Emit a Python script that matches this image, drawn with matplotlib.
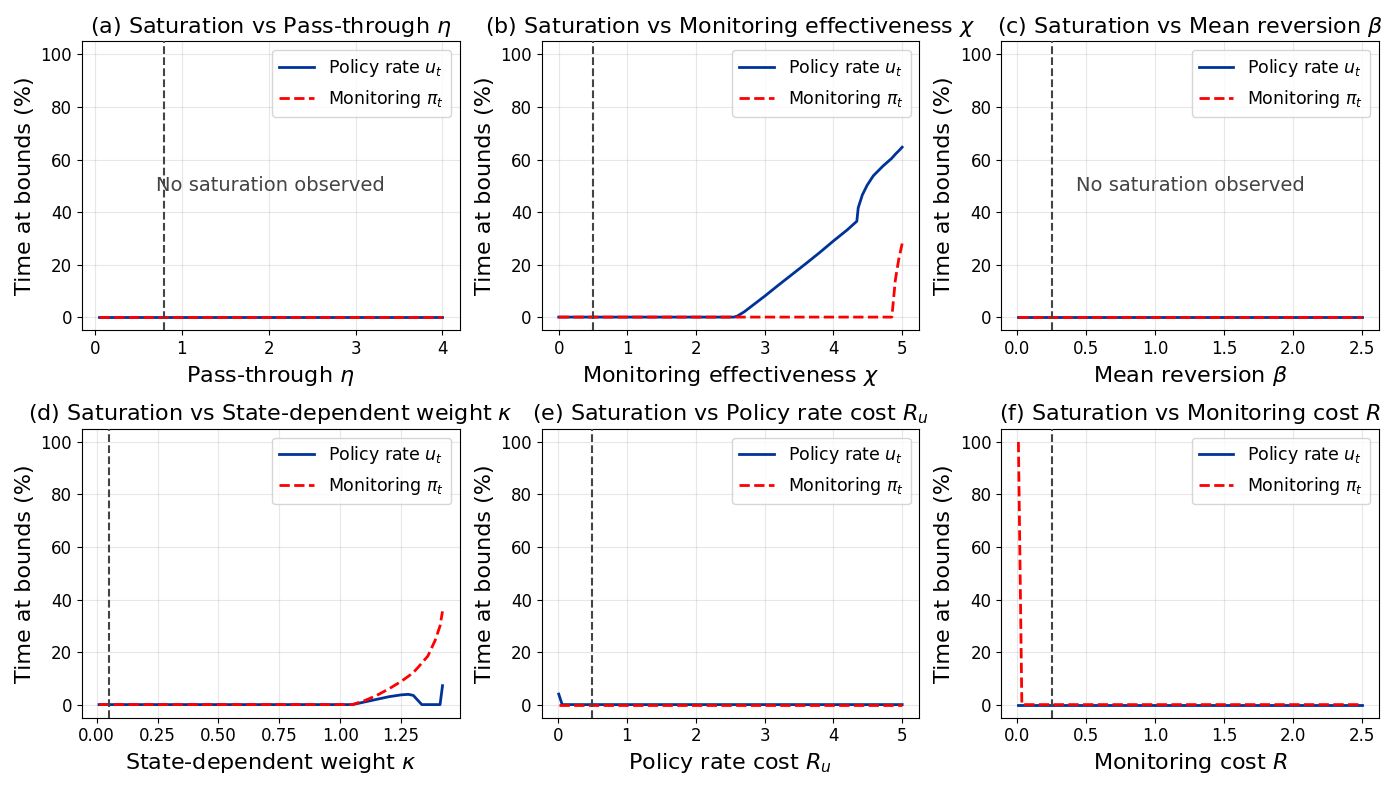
import matplotlib
matplotlib.use("Agg")
import matplotlib.pyplot as plt
import numpy as np

# ---- data ----
a_x = [0.05, 1.0, 2.0, 3.0, 4.0]
a_u = [0, 0, 0, 0, 0]
a_pi = [0, 0, 0, 0, 0]
a_ref = 0.8

b_x = [0.0, 0.5, 1.0, 1.5, 2.0, 2.5, 2.55, 2.6, 2.7, 2.8, 2.9, 3.0, 3.2, 3.4, 3.6, 3.8, 4.0,
       4.2, 4.34, 4.36, 4.42, 4.49, 4.58, 4.72, 4.85, 4.9, 4.95, 5.0]
b_u = [0, 0, 0, 0, 0, 0, 0, 0.4, 2.0, 4.0, 6.0, 8.0, 12.2, 16.3, 20.4, 24.6, 29.0,
       33.2, 36.5, 41.6, 46.5, 50.2, 53.8, 57.5, 60.5, 62.0, 63.3, 64.7]
b_pi = [0, 0, 0, 0, 0, 0, 0, 0, 0, 0, 0, 0, 0, 0, 0, 0, 0,
        0, 0, 0, 0, 0, 0, 0, 0, 14, 22, 28]
b_ref = 0.5

c_x = [0.01, 0.5, 1.0, 1.5, 2.0, 2.5]
c_u = [0, 0, 0, 0, 0, 0]
c_pi = [0, 0, 0, 0, 0, 0]
c_ref = 0.25

d_x = [0.01, 0.25, 0.5, 0.75, 1.0, 1.05, 1.1, 1.15, 1.2, 1.25, 1.28, 1.3, 1.32, 1.335,
       1.36, 1.39, 1.41, 1.42]
d_u = [0, 0, 0, 0, 0, 0, 1.0, 2.0, 3.0, 3.7, 3.9, 3.5, 1.5, 0, 0, 0, 0, 7.2]
d_pi = [0, 0, 0, 0, 0, 0, 1.5, 3.5, 6.0, 8.8, 10.8, 12.2, 14.2, 15.8, 18.5, 24.5, 30.0, 35.5]
d_ref = 0.05

e_x = [0.01, 0.06, 1.0, 2.0, 3.0, 4.0, 5.0]
e_u = [4.0, 0, 0, 0, 0, 0, 0]
e_pi = [0, 0, 0, 0, 0, 0, 0]
e_ref = 0.5

f_x = [0.01, 0.035, 0.5, 1.0, 1.5, 2.0, 2.5]
f_u = [0, 0, 0, 0, 0, 0, 0]
f_pi = [100, 0, 0, 0, 0, 0, 0]
f_ref = 0.25

titles = [r"(a) Saturation vs Pass-through $\eta$",
          r"(b) Saturation vs Monitoring effectiveness $\chi$",
          r"(c) Saturation vs Mean reversion $\beta$",
          r"(d) Saturation vs State-dependent weight $\kappa$",
          r"(e) Saturation vs Policy rate cost $R_u$",
          r"(f) Saturation vs Monitoring cost $R$"]
xlabels = [r"Pass-through $\eta$", r"Monitoring effectiveness $\chi$",
           r"Mean reversion $\beta$", r"State-dependent weight $\kappa$",
           r"Policy rate cost $R_u$", r"Monitoring cost $R$"]
no_sat = [True, False, True, False, False, False]

panels = [(a_x, a_u, a_pi, a_ref), (b_x, b_u, b_pi, b_ref), (c_x, c_u, c_pi, c_ref),
          (d_x, d_u, d_pi, d_ref), (e_x, e_u, e_pi, e_ref), (f_x, f_u, f_pi, f_ref)]

fig, axes = plt.subplots(2, 3, figsize=(13.94, 7.9), dpi=100)
for i, ax in enumerate(axes.flat):
    x, u, p, ref = panels[i]
    ax.plot(x, u, color="#003399", lw=2, label=r"Policy rate $u_t$", zorder=2)
    ax.plot(x, p, color="red", lw=2, ls="--", label=r"Monitoring $\pi_t$", zorder=3)
    ax.axvline(ref, color="#444444", ls="--", lw=1.5, zorder=4)
    ax.set_ylim(-5, 105)
    ax.set_yticks([0, 20, 40, 60, 80, 100])
    ax.set_title(titles[i], fontsize=16)
    ax.set_xlabel(xlabels[i], fontsize=16)
    ax.set_ylabel("Time at bounds (%)", fontsize=16)
    ax.tick_params(labelsize=12)
    ax.grid(True, alpha=0.3)
    ax.legend(loc="upper right", fontsize=12.5)
    if no_sat[i]:
        ax.text(0.5, 0.5, "No saturation observed", transform=ax.transAxes,
                ha="center", va="center", fontsize=14, color="#444444")

plt.tight_layout()
fig.savefig("out.png", dpi=100)
